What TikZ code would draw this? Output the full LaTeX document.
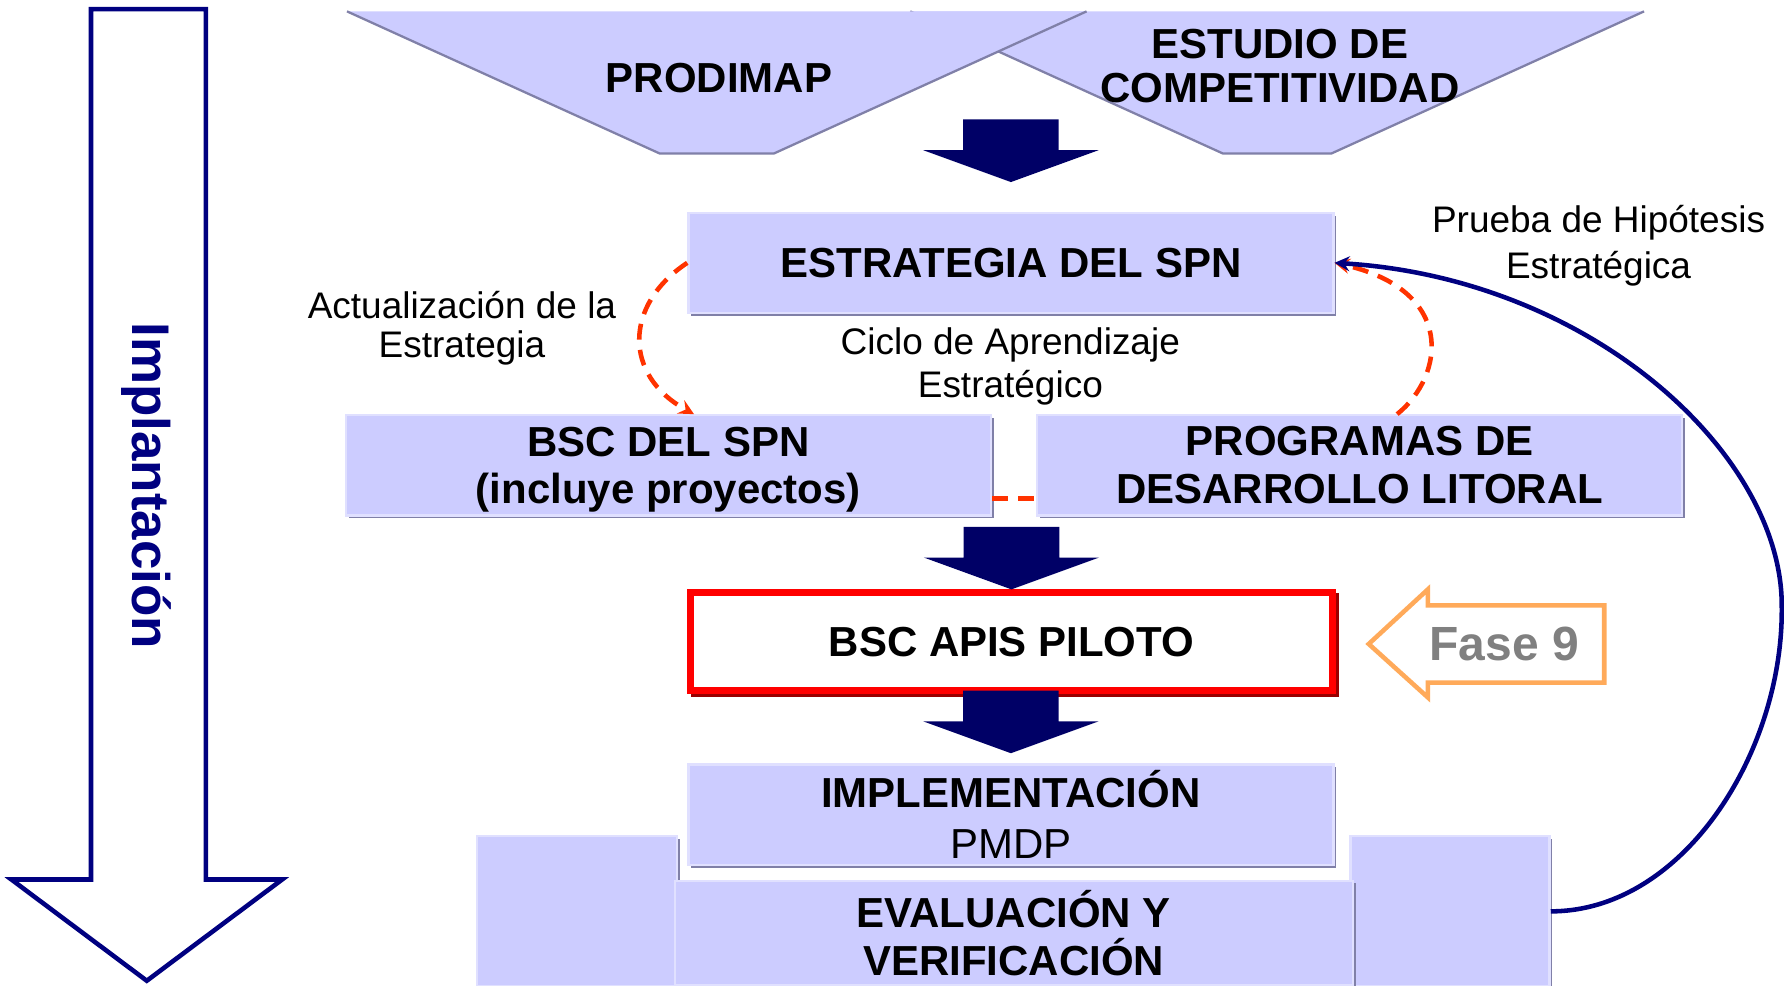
\documentclass[tikz,border=0pt]{standalone}
\usepackage{fontspec}
\setmainfont{Liberation Sans}
\usepackage{tikz}
\usetikzlibrary{arrows, shadows}
\definecolor{lavanda}{RGB}{204,204,255}
\definecolor{bordeclaro}{RGB}{224,224,255}
\definecolor{sombra}{RGB}{128,128,168}
\definecolor{marino}{RGB}{0,0,128}
\definecolor{marinooscuro}{RGB}{0,0,102}
\definecolor{rojooscuro}{RGB}{153,0,0}
\definecolor{naranja}{RGB}{255,170,90}
\definecolor{rojociclo}{RGB}{255,51,0}
\tikzstyle{caja} = [rectangle, fill=lavanda, draw=bordeclaro, line width=0.04cm, minimum width=11.34cm, minimum height=1.76cm, inner sep=0pt, text centered, align=center, font=\fontsize{21}{23.9}\selectfont\bfseries, drop shadow={shadow xshift=0.05cm, shadow yshift=-0.05cm, fill=sombra, opacity=1}]
\tikzstyle{piloto} = [rectangle, fill=white, draw=red, line width=0.12cm, minimum width=11.28cm, minimum height=1.72cm, inner sep=0pt, text centered, font=\fontsize{21}{24}\selectfont\bfseries, drop shadow={shadow xshift=0.06cm, shadow yshift=-0.06cm, fill=rojooscuro, draw=rojooscuro, line width=0.12cm, opacity=1}]
\tikzstyle{trapecio} = [fill=lavanda, draw=sombra, line width=0.04cm]
\tikzstyle{titulo} = [inner sep=0pt, align=center, font=\fontsize{21}{22.2}\selectfont\bfseries]
\tikzstyle{etiqueta} = [inner sep=0pt, align=center, font=\fontsize{18.5}{21}\selectfont]
\tikzstyle{flechabloque} = [fill=marinooscuro]
\tikzstyle{ciclo} = [line width=0.08cm, draw=rojociclo, dash pattern=on 0.28cm off 0.18cm]
\tikzstyle{retro} = [line width=0.08cm, ->, >=stealth, draw=marino]

\begin{document}
\begin{tikzpicture}[x=0.02cm, y=-0.02cm]

        \useasboundingbox (0,0) rectangle (1568,866);
        \clip (0,0) rectangle (1568,866);

        % Flecha grande de implantación
        \draw [draw=marino, fill=white, line width=0.08cm] (80,8) -- (181,8) -- (181,773) -- (248,773) -- (129,862) -- (10,773) -- (80,773) -- cycle;
        \node (implantacion) at (129,427) [rotate=-90, inner sep=0pt, text=marino, font=\fontsize{26.5}{28}\selectfont\bfseries] {Implantación};

        % Trapecios de entrada
        \filldraw [trapecio] (800,10) -- (1075,135) -- (1170,135) -- (1445,10);
        \filldraw [trapecio] (305,10) -- (580,135) -- (680,135) -- (955,10);
        \node (prodimap) at (632,69) [titulo] {PRODIMAP};
        \node (estudio) at (1125,58) [titulo] {ESTUDIO DE\\COMPETITIVIDAD};

        % Nodos (bloques del diagrama)
        \node (estrategia) at (888.5,231) [caja] {ESTRATEGIA DEL SPN};
        \node (bscspn) at (587.5,409) [caja] {BSC DEL SPN\\\smash{(incluye proyectos)}};
        \node (programas) at (1195,409) [caja] {PROGRAMAS DE\\DESARROLLO LITORAL};
        \node (piloto) at (889,564) [piloto] {BSC APIS PILOTO};
        \node (implementacion) at (888.5,716) [caja, font=\fontsize{21}{25.6}\selectfont\bfseries] {IMPLEMENTACIÓN\\ \mdseries PMDP};
        \node (evalizq) at (507,801) [caja, minimum width=3.52cm, minimum height=2.64cm] {};
        \node (evalder) at (1274.5,801) [caja, minimum width=3.5cm, minimum height=2.64cm] {};
        \node (evaluacion) at (891,820) [caja, minimum width=11.92cm, minimum height=1.84cm] {EVALUACIÓN Y\\VERIFICACIÓN};

        % Textos sueltos
        \node (actualizacion) at (406,288.5) [etiqueta, font=\fontsize{18.5}{19.9}\selectfont] {Actualización de la\\Estrategia};
        \node (aprendizaje) at (888,322) [etiqueta, font=\fontsize{18.5}{21.6}\selectfont] {Ciclo de Aprendizaje\\Estratégico};
        \node (prueba) at (1405,216) [etiqueta, font=\fontsize{18.5}{22.7}\selectfont] {Prueba de Hipótesis\\Estratégica};

        % Flecha de la fase
        \draw [draw=naranja, fill=white, line width=0.08cm] (1203,566) -- (1255,518) -- (1255,532) -- (1410,532) -- (1410,600) -- (1255,600) -- (1255,613) -- cycle;
        \node (fase) at (1322,566) [inner sep=0pt, text=gray, font=\fontsize{24}{24}\selectfont\bfseries] {Fase 9};

        % Flechas de bloque entre etapas
        \fill [flechabloque] ([yshift=0.52cm]estrategia.north) -- ++(-77,-28) -- ++(35,0) -- ++(0,-27) -- ++(84,0) -- ++(0,27) -- ++(35,0) -- cycle;
        \fill [flechabloque] (piloto.north) -- ++(-77,-28) -- ++(35,0) -- ++(0,-27) -- ++(84,0) -- ++(0,27) -- ++(35,0) -- cycle;
        \fill [flechabloque] ([yshift=0.18cm]implementacion.north) -- ++(-77,-28) -- ++(35,0) -- ++(0,-27) -- ++(84,0) -- ++(0,27) -- ++(35,0) -- cycle;

        % Ciclo de aprendizaje (línea discontinua)
        \draw [ciclo, ->, >=stealth] (estrategia.west) .. controls (548,268) and (548,330) .. ([xshift=0.45cm]bscspn.north);
        \draw [ciclo] ([yshift=0.32cm]bscspn.south east) -- ([yshift=0.32cm]programas.south west);
        \draw [ciclo, ->, >=stealth] ([xshift=0.66cm]programas.north) .. controls (1270,330) and (1280,255) .. (estrategia.east);

        % Retorno de la evaluación a la estrategia
        \draw [retro] (evalder.east) .. controls (1480,801) and (1568,660) .. (1566,532) .. controls (1566,400) and (1400,245) .. (estrategia.east);

    \end{tikzpicture}
\end{document}
